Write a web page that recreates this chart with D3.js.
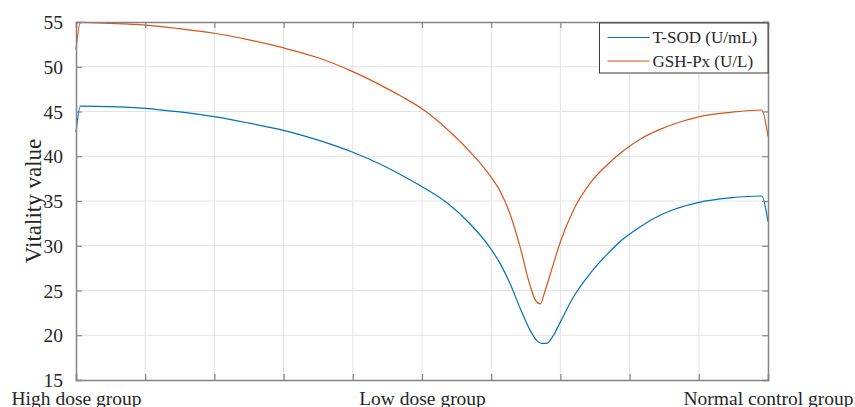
<!DOCTYPE html>
<html>
<head>
<meta charset="utf-8">
<script src="https://cdn.jsdelivr.net/npm/d3@7.9.0/dist/d3.min.js"></script>
<style>
  html, body { margin: 0; padding: 0; background: #fff; }
  svg { display: block; font-family: "Liberation Serif", "Times New Roman", serif; }
</style>
</head>
<body>
<div id="chart"></div>
<script>
// group positions along the x axis (0 = high dose, 5 = low dose, 10 = normal control)
const groupTicks = [0, 5, 10];
const groupLabels = ['High dose group', 'Low dose group', 'Normal control group'];
const xTicks = [0, 1, 2, 3, 4, 5, 6, 7, 8, 9, 10];
const yTicks = [15, 20, 25, 30, 35, 40, 45, 50, 55];

// T-SOD (U/mL)
const sodX = [0, 0.065, 0.49, 1, 1.5, 2, 2.5, 3, 3.5, 4, 4.4, 4.7, 5, 5.36, 5.7, 6, 6.13, 6.27, 6.42,
  6.56, 6.66, 6.73, 6.8, 6.9, 7, 7.19, 7.43, 7.67, 7.86, 8.15, 8.44, 8.64, 9, 9.45, 9.91, 10];
const sodY = [42.7, 45.6, 45.55, 45.36, 44.95, 44.42, 43.7, 42.9, 41.8, 40.45, 39.1, 37.9, 36.6, 34.8,
  32.4, 29.6, 28.0, 25.8, 23.0, 20.6, 19.4, 19.1, 19.1, 20.0, 21.5, 24.3, 26.9, 29.0, 30.45,
  32.1, 33.4, 34.05, 34.85, 35.35, 35.56, 32.7];

// GSH-Px (U/L)
const gshX = [0, 0.065, 0.49, 1, 1.5, 2, 2.5, 3, 3.5, 4, 4.4, 4.7, 5, 5.36, 5.7, 6, 6.13, 6.27, 6.42,
  6.56, 6.64, 6.71, 6.78, 6.9, 7, 7.19, 7.43, 7.67, 7.86, 8.15, 8.44, 8.64, 9, 9.45, 9.91, 10];
const gshY = [51.9, 54.95, 54.85, 54.66, 54.25, 53.74, 53.0, 52.1, 51.0, 49.45, 47.95, 46.7, 45.3, 43.05,
  40.45, 37.65, 36.1, 33.6, 29.8, 25.6, 23.9, 23.5, 25.0, 28.0, 30.45, 34.0, 37.0, 39.0, 40.3,
  41.9, 43.0, 43.6, 44.4, 44.9, 45.17, 42.2];

const seriesNames = ['T-SOD (U/mL)', 'GSH-Px (U/L)'];
const seriesColors = ['#0072BD', '#D95319'];

const width = 855;
const height = 407;
const margin = { top: 22, right: 87, bottom: 27, left: 76 };

const svg = d3.select('#chart').append('svg')
  .attr('width', width)
  .attr('height', height);

const x = d3.scaleLinear().domain([0, 10]).range([margin.left, width - margin.right]);
const y = d3.scaleLinear().domain([15, 55]).range([height - margin.bottom, margin.top]);

const axisColor = '#848484';
const textColor = '#262626';

// grid
svg.append('g').attr('class', 'grid-x')
  .selectAll('line').data(xTicks.slice(1, -1)).join('line')
  .attr('x1', d => x(d)).attr('x2', d => x(d))
  .attr('y1', margin.top).attr('y2', height - margin.bottom)
  .attr('stroke', '#e3e3e3').attr('stroke-width', 1);

svg.append('g').attr('class', 'grid-y')
  .selectAll('line').data(yTicks.slice(1, -1)).join('line')
  .attr('x1', margin.left).attr('x2', width - margin.right)
  .attr('y1', d => y(d)).attr('y2', d => y(d))
  .attr('stroke', '#e3e3e3').attr('stroke-width', 1);

// lines
const sodData = sodX.map((d, i) => [d, sodY[i]]);
const gshData = gshX.map((d, i) => [d, gshY[i]]);
const line = d3.line().x(d => x(d[0])).y(d => y(d[1])).curve(d3.curveMonotoneX);

[sodData, gshData].forEach((data, i) => {
  svg.append('path')
    .datum(data)
    .attr('fill', 'none')
    .attr('stroke', seriesColors[i])
    .attr('stroke-width', 1.2)
    .attr('stroke-linejoin', 'round')
    .attr('d', line);
});

// axes (MATLAB style box with inward ticks)
const tickLen = 6;
const yAxis = d3.axisLeft(y).tickValues(yTicks).tickSize(-tickLen).tickPadding(tickLen + 7);
const gy = svg.append('g')
  .attr('transform', `translate(${margin.left},0)`)
  .call(yAxis);

const xAxis = d3.axisBottom(x).tickValues(xTicks).tickSize(-tickLen)
  .tickFormat(d => {
    const k = groupTicks.indexOf(d);
    return k >= 0 ? groupLabels[k] : '';
  })
  .tickPadding(tickLen + 5);
const gx = svg.append('g')
  .attr('transform', `translate(0,${height - margin.bottom})`)
  .call(xAxis);

const gTop = svg.append('g')
  .attr('transform', `translate(0,${margin.top})`)
  .call(d3.axisTop(x).tickValues(xTicks).tickSize(-tickLen).tickFormat(''));

const gRight = svg.append('g')
  .attr('transform', `translate(${width - margin.right},0)`)
  .call(d3.axisRight(y).tickValues(yTicks).tickSize(-tickLen).tickFormat(''));

[gx, gy, gTop, gRight].forEach(g => {
  g.attr('font-family', null);
  g.selectAll('.domain').attr('stroke', axisColor).attr('stroke-width', 1.5);
  g.selectAll('.tick line').attr('stroke', axisColor).attr('stroke-width', 1.2);
  g.selectAll('.tick text')
    .attr('fill', textColor)
    .style('font-family', '"Liberation Serif", "Times New Roman", serif')
    .style('font-size', '19.5px');
});

gx.selectAll('.tick text').attr('dy', '0.72em');
gy.selectAll('.tick text').attr('dy', '0.34em');

// y label
svg.append('text')
  .attr('transform', `translate(${41},${(margin.top + height - margin.bottom) / 2}) rotate(-90)`)
  .attr('text-anchor', 'middle')
  .attr('fill', textColor)
  .style('font-size', '23px')
  .text('Vitality value');

// legend
const lg = svg.append('g').attr('class', 'legend');
const lgLeft = 599.5;
const lgTop = 23;
const lgRight = width - margin.right;
lg.append('rect')
  .attr('x', lgLeft).attr('y', lgTop)
  .attr('width', lgRight - lgLeft).attr('height', 50)
  .attr('fill', '#fff')
  .attr('stroke', '#3a3a3a')
  .attr('stroke-width', 1);

seriesNames.forEach((name, i) => {
  const cy = 37.5 + i * 23.5;
  lg.append('line')
    .attr('x1', lgLeft + 8).attr('x2', lgLeft + 50)
    .attr('y1', cy).attr('y2', cy)
    .attr('stroke', seriesColors[i]).attr('stroke-width', 1.2);
  lg.append('text')
    .attr('x', lgLeft + 53).attr('y', cy)
    .attr('dy', '0.34em')
    .attr('fill', textColor)
    .style('font-size', '17px')
    .text(name);
});
</script>
</body>
</html>
